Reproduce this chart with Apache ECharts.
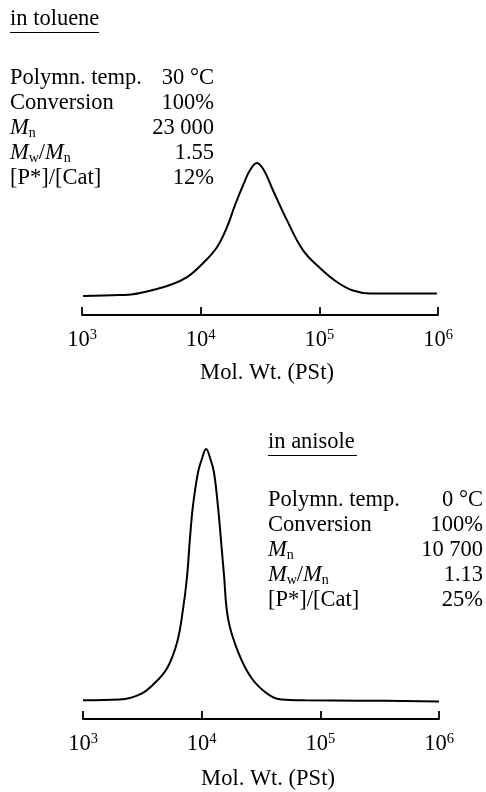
<!DOCTYPE html>
<html>
<head>
<meta charset="utf-8">
<script src="https://cdn.jsdelivr.net/npm/echarts@6/dist/echarts.min.js"></script>
<style>
  html, body { margin: 0; padding: 0; background: #fff; }
  #main { width: 486px; height: 792px; }
</style>
</head>
<body>
<div id="main"></div>
<script>
// GPC traces, molecular weight (PSt) vs. detector response (arbitrary, peak = 100)
var tolueneMW = [1020, 2090, 2690, 3960, 5510, 7670, 10450, 13720, 16660, 19450, 23170, 26030, 29810,
                 34150, 40650, 53340, 72770, 101200, 140700, 191900, 266900, 477500, 979000];
var tolueneRI = [12.5, 13.1, 13.6, 16.4, 19.7, 24.9, 34.1, 44.6, 57.8, 72.2, 86.7, 95.2, 100,
                 95.2, 82.1, 62.4, 42.7, 30.9, 21.7, 16.1, 14.2, 14.1, 14.1];

var anisoleMW = [1000, 2050, 3020, 3890, 5110, 6200, 6960, 7520, 7970, 8450, 9310, 9990, 10900,
                 11900, 12700, 13700, 14500, 15400, 16750, 20340, 26380, 36400, 47200, 74100, 216000, 1000000];
var anisoleRI = [6.9, 7.2, 9.1, 12.7, 18.8, 28.3, 40.6, 52.5, 67.0, 79.0, 91.3, 96.0, 100,
                 96.0, 91.3, 79.0, 67.0, 53.6, 36.8, 24.7, 15.1, 9.1, 7.2, 6.9, 6.8, 6.5];

var tickExponents = [3, 4, 5, 6];
var axisTitle = 'Mol. Wt. (PSt)';

var rowLabels = ['Polymn. temp.', 'Conversion', '{i|M}{s|n}', '{i|M}{s|w}/{i|M}{s|n}', '[P*]/[Cat]'];
var tolueneTitle = 'in toluene';
var tolueneValues = ['30 °C', '100%', '23 000', '1.55', '12%'];
var anisoleTitle = 'in anisole';
var anisoleValues = ['0 °C', '100%', '10 700', '1.13', '25%'];

var FONT = '"Liberation Serif", "Times New Roman", serif';

function pairs(xs, ys) {
  var out = [];
  for (var i = 0; i < xs.length; i++) out.push([xs[i], ys[i]]);
  return out;
}

var richText = {
  i: { fontFamily: FONT, fontSize: 22.5, fontStyle: 'italic', lineHeight: 24, fill: '#000' },
  s: { fontFamily: FONT, fontSize: 14, lineHeight: 8, verticalAlign: 'bottom', fill: '#000' }
};

function textBlock(title, values, left, right, titleBase, firstBase) {
  var els = [];
  els.push({
    type: 'text', left: left, top: titleBase - 20,
    style: { text: title, fontFamily: FONT, fontSize: 22.5, fill: '#000' }
  });
  els.push({
    type: 'line',
    shape: { x1: left, y1: titleBase + 4.5, x2: left + 89, y2: titleBase + 4.5 },
    style: { stroke: '#000', lineWidth: 1 }
  });
  for (var k = 0; k < rowLabels.length; k++) {
    var yc = firstBase + 25 * k - 7.7;
    els.push({
      type: 'text', x: left, y: yc,
      style: {
        text: rowLabels[k], fontFamily: FONT, fontSize: 22.5, lineHeight: 24, fill: '#000',
        align: 'left', verticalAlign: 'middle', rich: richText
      }
    });
    els.push({
      type: 'text', x: right, y: yc,
      style: {
        text: values[k], fontFamily: FONT, fontSize: 22.5, lineHeight: 24, fill: '#000',
        align: 'right', verticalAlign: 'middle'
      }
    });
  }
  return els;
}

function makeXAxis(idx, gap) {
  return {
    type: 'log', gridIndex: idx, logBase: 10, min: 1000, max: 1000000,
    name: axisTitle, nameLocation: 'middle', nameGap: gap,
    nameTextStyle: { fontFamily: FONT, fontSize: 22.5, color: '#000', padding: [0, 0, 0, 14] },
    axisLine: { show: true, lineStyle: { color: '#000', width: 1.8 } },
    axisTick: { show: true, inside: true, length: 8, lineStyle: { color: '#000', width: 1.8 } },
    splitLine: { show: false },
    minorTick: { show: false },
    axisLabel: {
      margin: 13,
      showMinLabel: true, showMaxLabel: true,
      formatter: function (v) {
        var e = Math.round(Math.log(v) / Math.LN10);
        if (tickExponents.indexOf(e) < 0) return '';
        return '{b|10}{s|' + e + '}';
      },
      rich: {
        b: { fontFamily: FONT, fontSize: 22.5, lineHeight: 24, color: '#000' },
        s: { fontFamily: FONT, fontSize: 14.5, lineHeight: 10, verticalAlign: 'top', color: '#000' }
      }
    }
  };
}

var chart = echarts.init(document.getElementById('main'));
var option = {
  animation: false,
  backgroundColor: '#fff',
  grid: [
    { left: 82, right: 48, top: 163, height: 152 },
    { left: 83, right: 47, top: 449, height: 276 }
  ],
  xAxis: [makeXAxis(0, 47), makeXAxis(1, 49)],
  yAxis: [
    { type: 'value', gridIndex: 0, min: 0, max: 100, show: false },
    { type: 'value', gridIndex: 1, min: 0, max: 100, show: false }
  ],
  series: [{
    name: 'toluene',
    type: 'line',
    xAxisIndex: 0, yAxisIndex: 0,
    smooth: 0.4,
    showSymbol: false,
    lineStyle: { color: '#000', width: 2 },
    data: pairs(tolueneMW, tolueneRI)
  }, {
    name: 'anisole',
    type: 'line',
    xAxisIndex: 1, yAxisIndex: 1,
    smooth: 0.4,
    showSymbol: false,
    lineStyle: { color: '#000', width: 2 },
    data: pairs(anisoleMW, anisoleRI)
  }],
  graphic: textBlock(tolueneTitle, tolueneValues, 10, 214, 28, 86)
    .concat(textBlock(anisoleTitle, anisoleValues, 268, 483, 451, 508))
};
chart.setOption(option);
</script>
</body>
</html>
